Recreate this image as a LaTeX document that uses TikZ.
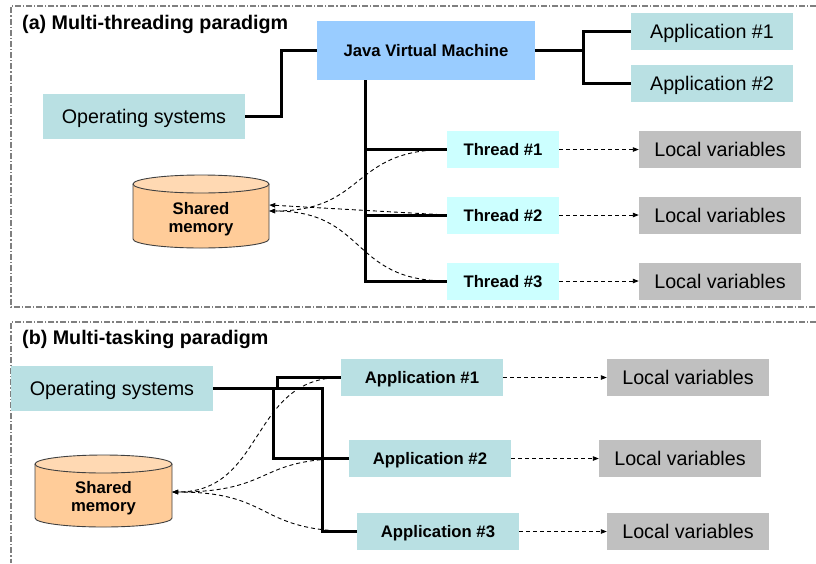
\documentclass[tikz,border=0pt]{standalone}
\usepackage{fontspec}
\setmainfont{Liberation Sans}
\usetikzlibrary{arrows.meta}
\definecolor{jvmblue}{HTML}{99CCFF}
\definecolor{appteal}{HTML}{B9E0E3}
\definecolor{thcyan}{HTML}{CCFFFF}
\definecolor{lvgray}{HTML}{C0C0C0}
\definecolor{cylbody}{HTML}{FFCC99}
\definecolor{cyltop}{HTML}{FFD9B3}
\definecolor{framegray}{HTML}{7F7F7F}
\definecolor{cylline}{HTML}{404040}
\begin{document}
\begin{tikzpicture}[x=1pt,y=-1pt,
  regtext/.style={font=\fontsize{19.7}{23}\selectfont, text height=14.1pt, text depth=0pt},
  boldtext/.style={font=\bfseries\fontsize{16.7}{19}\selectfont, text height=12pt, text depth=0pt},
  titletext/.style={font=\bfseries\fontsize{19.7}{23}\selectfont, anchor=base west, inner sep=0pt},
  box/.style={inner sep=0pt, minimum width=162pt, minimum height=37pt},
  osbox/.style={box, regtext, fill=appteal, minimum width=202pt, minimum height=45pt},
  appbox/.style={box, regtext, fill=appteal},
  appbbox/.style={box, boldtext, fill=appteal},
  jvmbox/.style={box, boldtext, fill=jvmblue, minimum width=218pt, minimum height=59pt},
  thbox/.style={box, boldtext, fill=thcyan, minimum width=112pt},
  lvbox/.style={box, regtext, fill=lvgray},
  cyltext/.style={align=center, font=\bfseries\fontsize{16.7}{18}\selectfont, inner sep=0pt, minimum height=20pt},
  conn/.style={line width=3pt},
  darrow/.style={line width=0.9pt, dash pattern=on 4pt off 3pt, -{Triangle[length=6pt,width=4.5pt]}},
  frameline/.style={framegray, line width=1.1pt, dash pattern=on 6pt off 2pt on 1.2pt off 2pt},
  cylfill/.style={fill=cylbody},
  cyldraw/.style={draw=cylline, line width=0.9pt}
]
\useasboundingbox (0,0) rectangle (816,563);

% frames
\draw[frameline] (816,6) -- (11,6) -- (11,307) -- (816,307);
\draw[frameline] (816,322) -- (11,322) -- (11,563);

\node[titletext] (ta) at (22,29.3) {(a) Multi-threading paradigm};
\node[titletext] (tb) at (22,344.3) {(b) Multi-tasking paradigm};

% ---------- panel (a) ----------
\node[jvmbox] (jvm) at (426,50.5) {Java Virtual Machine};
\node[appbox] (app1a) at (712,31.5) {Application \#1};
\node[appbox] (app2a) at (712,83.5) {Application \#2};
\node[osbox] (osa) at (144,116.5) {Operating systems};
\node[thbox] (th1) at (503,149.5) {Thread \#1};
\node[thbox] (th2) at (503,215) {Thread \#2};
\node[thbox] (th3) at (503,281) {Thread \#3};
\node[lvbox] (lv1a) at (720,149.5) {Local variables};
\node[lvbox] (lv2a) at (720,215) {Local variables};
\node[lvbox] (lv3a) at (720,281) {Local variables};

% cylinder (a)
\path[cylfill] (133,184) -- (133,239) arc[start angle=180, end angle=360, x radius=68pt, y radius=9pt] -- (269,184) -- cycle;
\draw[cyldraw] (133,184) -- (133,239) arc[start angle=180, end angle=360, x radius=68pt, y radius=9pt] -- (269,184);
\path[fill=cyltop, cyldraw] (201,184) ellipse[x radius=68pt, y radius=9pt];
\node[cyltext, minimum width=136pt] (smA) at (201,219) {Shared\\memory};

\draw[conn] (osa.east) -- ++(36,0) |- (jvm.west);
\coordinate (jb) at (583,50.5);
\draw[conn] (jvm.east) -- (jb);
\draw[conn] (app1a.west) -| (jb);
\draw[conn] (app2a.west) -| (jb);
\coordinate (jv) at (365,80);
\draw[conn] (jv) |- (th1.west);
\draw[conn] (jv) |- (th2.west);
\draw[conn] (jv) |- (th3.west);

\draw[darrow] (th1.east) -- (lv1a.west);
\draw[darrow] (th2.east) -- (lv2a.west);
\draw[darrow] (th3.east) -- (lv3a.west);

\draw[darrow] (th2.west) -- ([yshift=14pt]smA.east);
\draw[darrow] (th1.west) .. controls (350,149.5) and (367,211) .. ([yshift=8pt]smA.east);
\draw[darrow] (th3.west) .. controls (350,281) and (367,211) .. ([yshift=8pt]smA.east);

% ---------- panel (b) ----------
\node[osbox] (osb) at (112,388.5) {Operating systems};
\node[appbbox] (app1b) at (422,377.5) {Application \#1};
\node[appbbox] (app2b) at (430,458.5) {Application \#2};
\node[appbbox] (app3b) at (438,531.5) {Application \#3};
\node[lvbox] (lv1b) at (688,377.5) {Local variables};
\node[lvbox] (lv2b) at (680,458.5) {Local variables};
\node[lvbox] (lv3b) at (688,531.5) {Local variables};

% cylinder (b)
\path[cylfill] (35,464) -- (35,518) arc[start angle=180, end angle=360, x radius=68.5pt, y radius=9pt] -- (172,464) -- cycle;
\draw[cyldraw] (35,464) -- (35,518) arc[start angle=180, end angle=360, x radius=68.5pt, y radius=9pt] -- (172,464);
\path[fill=cyltop, cyldraw] (103.5,464) ellipse[x radius=68.5pt, y radius=9pt];
\node[cyltext, minimum width=137pt] (smB) at (103.5,498) {Shared\\memory};

\coordinate (b3) at (322,531.5);
\coordinate (b1) at (277,388.5);
\coordinate (b2) at (273,388.5);
\draw[conn] (osb.east) -| (b3) -- (app3b.west);
\draw[conn] (app1b.west) -| (b1);
\draw[conn] (app2b.west) -| (b2);

\draw[darrow] (app1b.east) -- (lv1b.west);
\draw[darrow] (app2b.east) -- (lv2b.west);
\draw[darrow] (app3b.east) -- (lv3b.west);

\draw[darrow] (app1b.west) .. controls (250,377.5) and (265,492) .. ([yshift=6pt]smB.east);
\draw[darrow] (app2b.west) .. controls (255,458.5) and (275,492) .. ([yshift=6pt]smB.east);
\draw[darrow] (app3b.west) .. controls (255,531.5) and (275,492) .. ([yshift=6pt]smB.east);
\end{tikzpicture}
\end{document}
